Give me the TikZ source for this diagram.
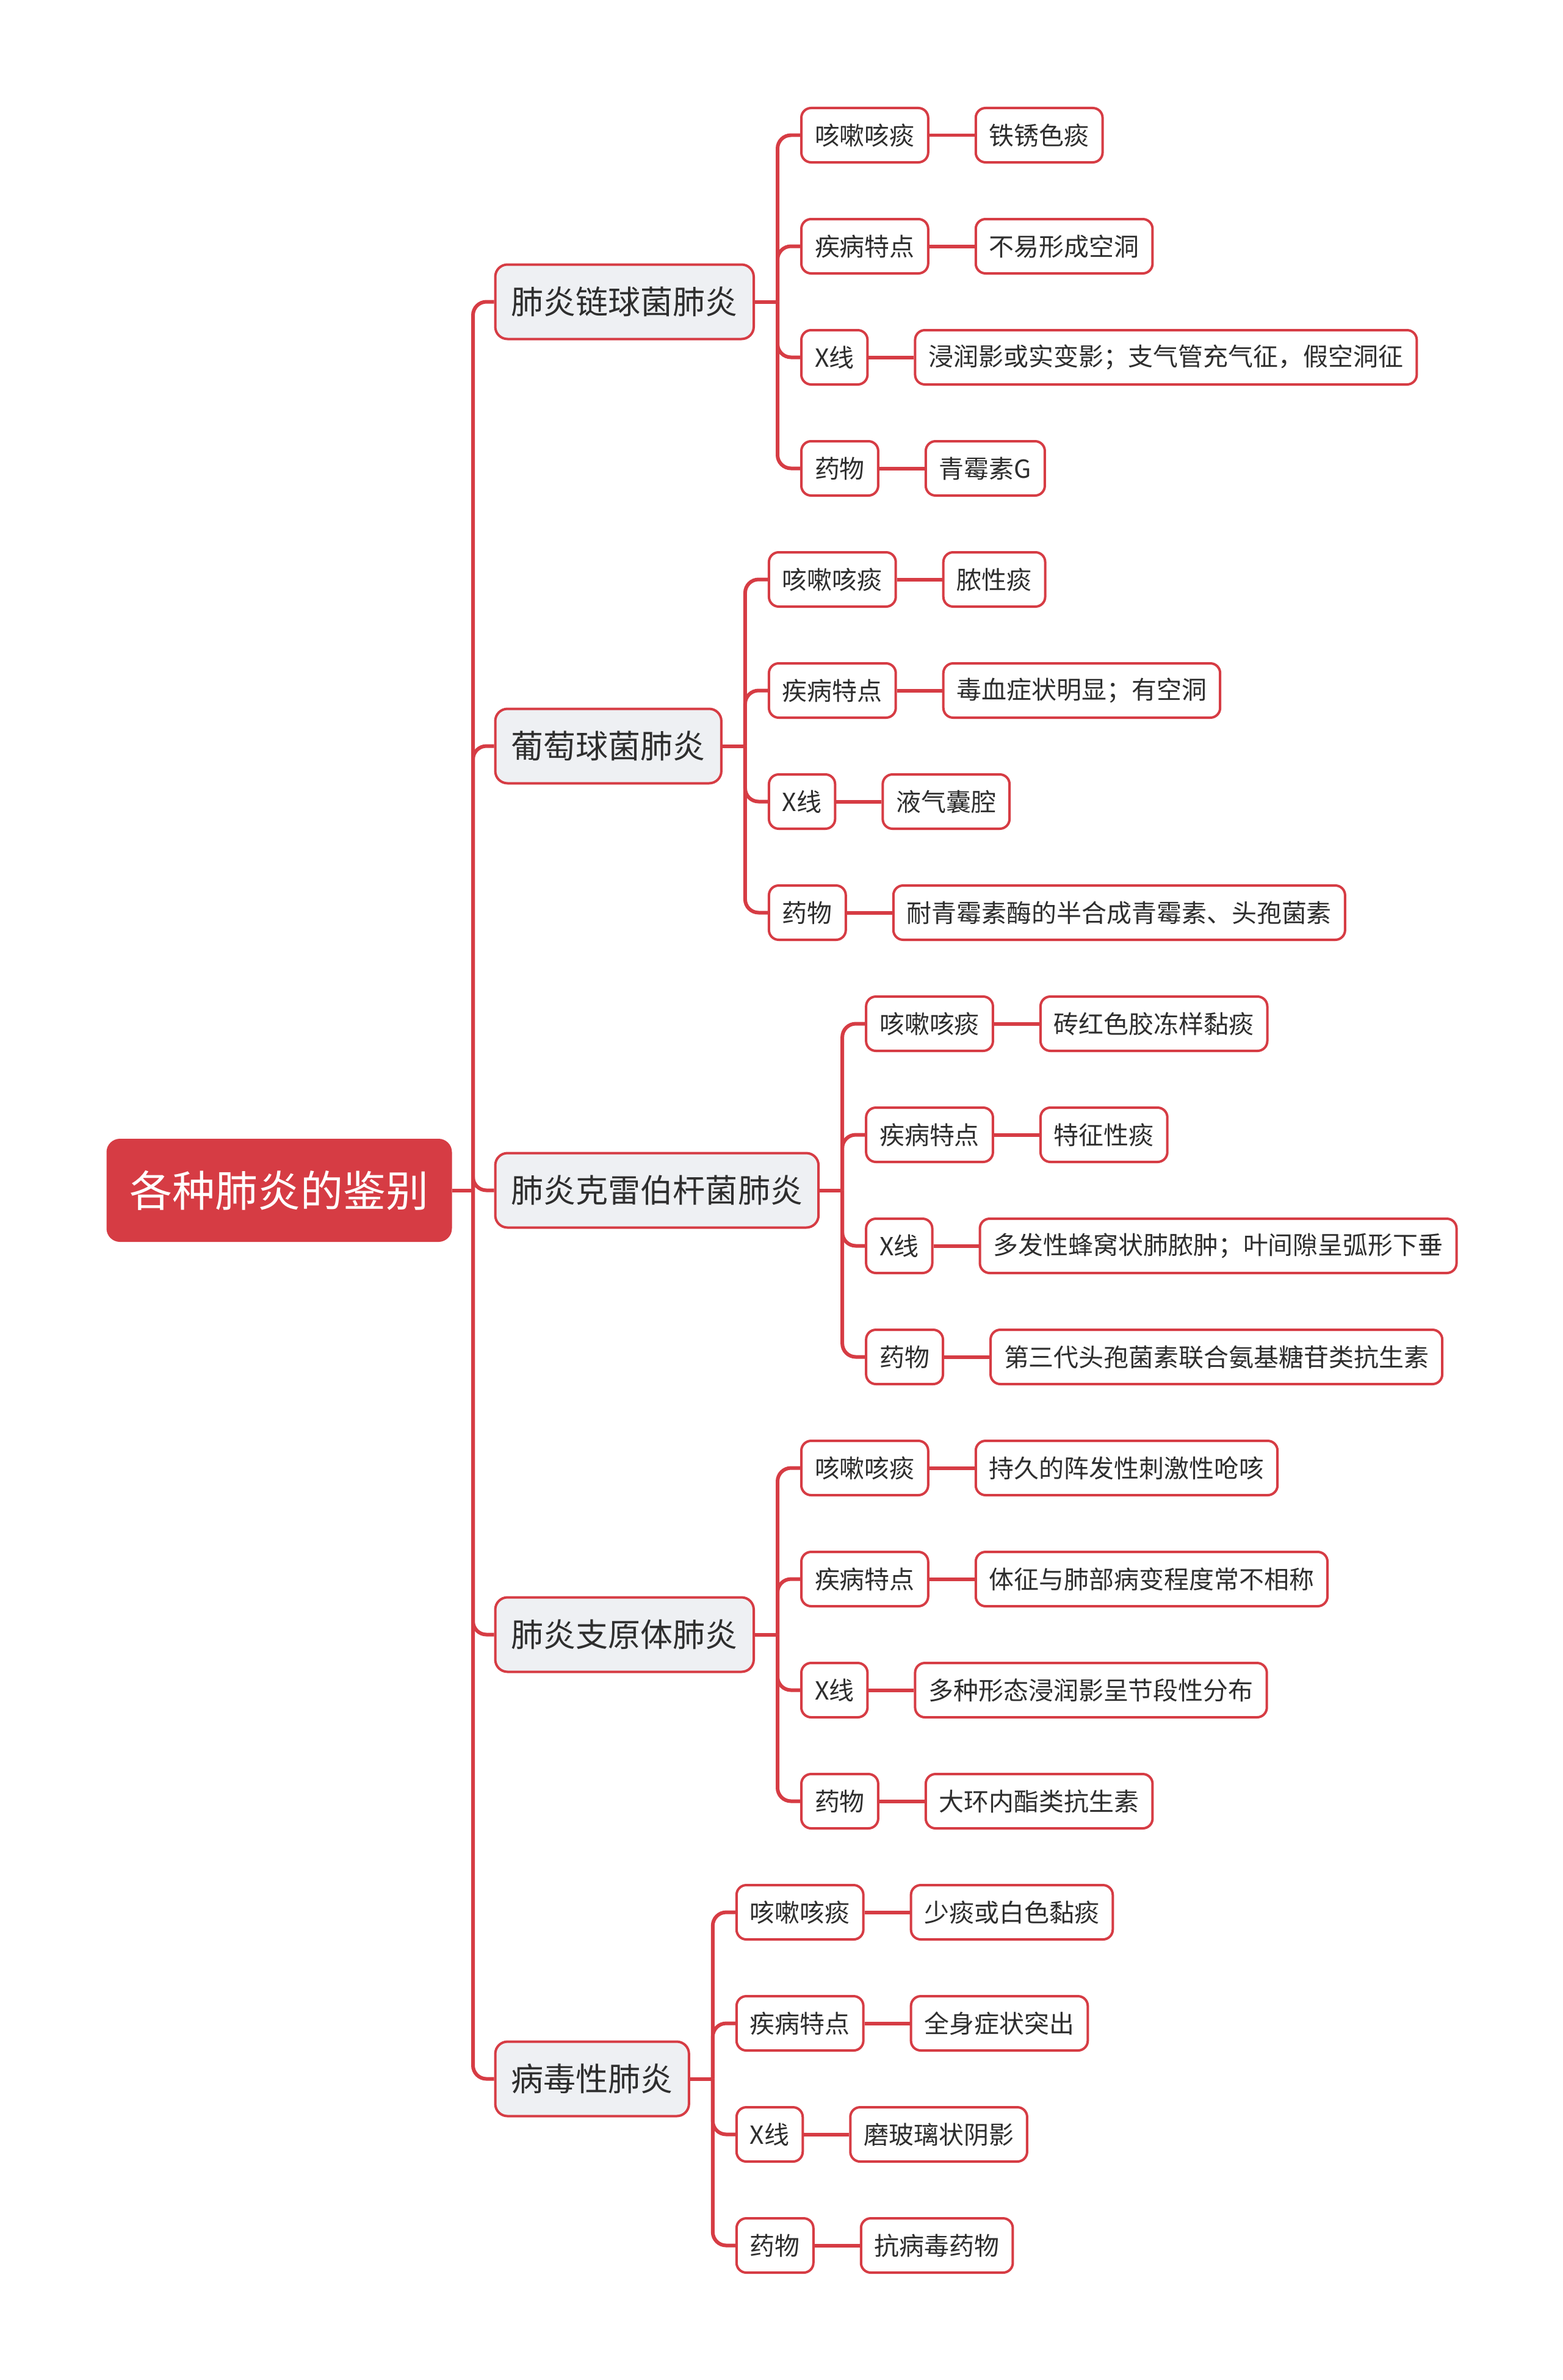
\documentclass[tikz,border=0pt]{standalone}
\usepackage{fontspec}
\setmainfont{Noto Sans CJK SC}
\usetikzlibrary{positioning}
\definecolor{mapred}{HTML}{D63C44}
\definecolor{topicgray}{HTML}{EEF0F3}
\definecolor{inkgray}{HTML}{2E2E2E}

\tikzset{
  root/.style={rectangle, rounded corners=0.2cm, fill=mapred, draw=mapred, line width=0.04cm,
    text=white, minimum width=5.62cm, minimum height=1.65cm,
    font=\fontsize{19.9pt}{22pt}\selectfont},
  topic/.style={rectangle, rounded corners=0.2cm, fill=topicgray, draw=mapred, line width=0.04cm,
    text=inkgray, inner xsep=0.26cm, minimum height=1.22cm,
    font=\fontsize{15.1pt}{17pt}\selectfont},
  leaf/.style={rectangle, rounded corners=0.16cm, fill=white, draw=mapred, line width=0.04cm,
    text=inkgray, inner xsep=0.22cm, minimum height=0.89cm,
    font=\fontsize{11.65pt}{13pt}\selectfont},
  link/.style={draw=mapred, line width=0.06cm},
}

\begin{document}
\begin{tikzpicture}
    \useasboundingbox (0,0) rectangle (25.6,-39);

    % root and the five kinds
    \node [root] (root) at (4.575,-19.505) {各种肺炎的鉴别};
    \node [topic, right=0.69cm of root, yshift=14.56cm] (lobar) {肺炎链球菌肺炎};
    \node [topic, right=0.69cm of root, yshift=7.28cm] (staph) {葡萄球菌肺炎};
    \node [topic, right=0.69cm of root] (kleb) {肺炎克雷伯杆菌肺炎};
    \node [topic, right=0.69cm of root, yshift=-7.28cm] (myco) {肺炎支原体肺炎};
    \node [topic, right=0.69cm of root, yshift=-14.56cm] (viral) {病毒性肺炎};

    % 肺炎链球菌肺炎
    \node [leaf, right=0.74cm of lobar, yshift=2.73cm] (lobar-1) {咳嗽咳痰};
    \node [leaf, right=0.74cm of lobar, yshift=0.91cm] (lobar-2) {疾病特点};
    \node [leaf, right=0.74cm of lobar, yshift=-0.91cm] (lobar-3) {X线};
    \node [leaf, right=0.74cm of lobar, yshift=-2.73cm] (lobar-4) {药物};
    \node [leaf, right=0.74cm of lobar-1] (lobar-1-d) {铁锈色痰};
    \node [leaf, right=0.74cm of lobar-2] (lobar-2-d) {不易形成空洞};
    \node [leaf, right=0.74cm of lobar-3] (lobar-3-d) {浸润影或实变影；支气管充气征，假空洞征};
    \node [leaf, right=0.74cm of lobar-4] (lobar-4-d) {青霉素G};

    % 葡萄球菌肺炎
    \node [leaf, right=0.74cm of staph, yshift=2.73cm] (staph-1) {咳嗽咳痰};
    \node [leaf, right=0.74cm of staph, yshift=0.91cm] (staph-2) {疾病特点};
    \node [leaf, right=0.74cm of staph, yshift=-0.91cm] (staph-3) {X线};
    \node [leaf, right=0.74cm of staph, yshift=-2.73cm] (staph-4) {药物};
    \node [leaf, right=0.74cm of staph-1] (staph-1-d) {脓性痰};
    \node [leaf, right=0.74cm of staph-2] (staph-2-d) {毒血症状明显；有空洞};
    \node [leaf, right=0.74cm of staph-3] (staph-3-d) {液气囊腔};
    \node [leaf, right=0.74cm of staph-4] (staph-4-d) {耐青霉素酶的半合成青霉素、头孢菌素};

    % 肺炎克雷伯杆菌肺炎
    \node [leaf, right=0.74cm of kleb, yshift=2.73cm] (kleb-1) {咳嗽咳痰};
    \node [leaf, right=0.74cm of kleb, yshift=0.91cm] (kleb-2) {疾病特点};
    \node [leaf, right=0.74cm of kleb, yshift=-0.91cm] (kleb-3) {X线};
    \node [leaf, right=0.74cm of kleb, yshift=-2.73cm] (kleb-4) {药物};
    \node [leaf, right=0.74cm of kleb-1] (kleb-1-d) {砖红色胶冻样黏痰};
    \node [leaf, right=0.74cm of kleb-2] (kleb-2-d) {特征性痰};
    \node [leaf, right=0.74cm of kleb-3] (kleb-3-d) {多发性蜂窝状肺脓肿；叶间隙呈弧形下垂};
    \node [leaf, right=0.74cm of kleb-4] (kleb-4-d) {第三代头孢菌素联合氨基糖苷类抗生素};

    % 肺炎支原体肺炎
    \node [leaf, right=0.74cm of myco, yshift=2.73cm] (myco-1) {咳嗽咳痰};
    \node [leaf, right=0.74cm of myco, yshift=0.91cm] (myco-2) {疾病特点};
    \node [leaf, right=0.74cm of myco, yshift=-0.91cm] (myco-3) {X线};
    \node [leaf, right=0.74cm of myco, yshift=-2.73cm] (myco-4) {药物};
    \node [leaf, right=0.74cm of myco-1] (myco-1-d) {持久的阵发性刺激性呛咳};
    \node [leaf, right=0.74cm of myco-2] (myco-2-d) {体征与肺部病变程度常不相称};
    \node [leaf, right=0.74cm of myco-3] (myco-3-d) {多种形态浸润影呈节段性分布};
    \node [leaf, right=0.74cm of myco-4] (myco-4-d) {大环内酯类抗生素};

    % 病毒性肺炎
    \node [leaf, right=0.74cm of viral, yshift=2.73cm] (viral-1) {咳嗽咳痰};
    \node [leaf, right=0.74cm of viral, yshift=0.91cm] (viral-2) {疾病特点};
    \node [leaf, right=0.74cm of viral, yshift=-0.91cm] (viral-3) {X线};
    \node [leaf, right=0.74cm of viral, yshift=-2.73cm] (viral-4) {药物};
    \node [leaf, right=0.74cm of viral-1] (viral-1-d) {少痰或白色黏痰};
    \node [leaf, right=0.74cm of viral-2] (viral-2-d) {全身症状突出};
    \node [leaf, right=0.74cm of viral-3] (viral-3-d) {磨玻璃状阴影};
    \node [leaf, right=0.74cm of viral-4] (viral-4-d) {抗病毒药物};

    % connectors
    \draw [link] (root.east) -- ++(0.345,0) coordinate (root-j);
    \foreach \t in {lobar,staph,kleb,myco,viral}{
        \draw [link, rounded corners=0.22cm] (root-j) |- (\t.west);
        \draw [link] (\t.east) -- ++(0.37,0) coordinate (\t-j);
        \foreach \k in {1,...,4}{
            \draw [link, rounded corners=0.22cm] (\t-j) |- (\t-\k.west);
            \draw [link] (\t-\k) -- (\t-\k-d);
        }
    }
\end{tikzpicture}
\end{document}
